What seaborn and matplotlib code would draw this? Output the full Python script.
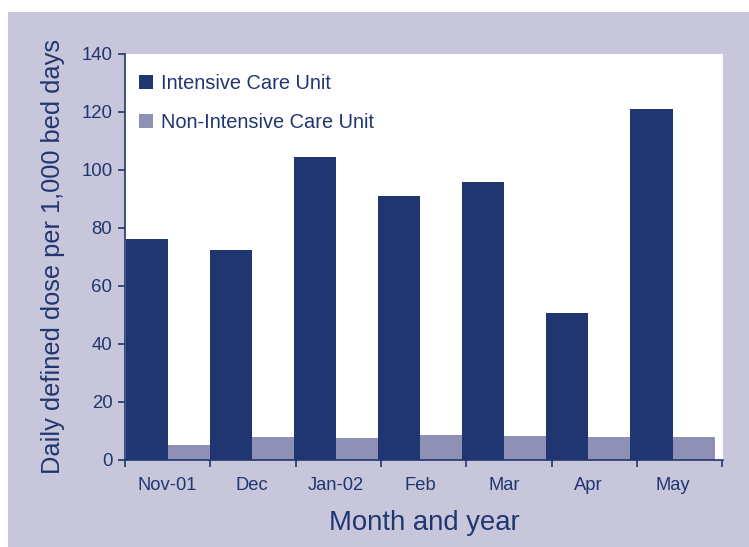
import numpy as np
import pandas as pd
import matplotlib
matplotlib.use("Agg")
import matplotlib.pyplot as plt
from matplotlib.patches import Rectangle
import seaborn as sns

months = ["Nov-01", "Dec", "Jan-02", "Feb", "Mar", "Apr", "May"]
icu = [76.2, 72.4, 104.5, 91.0, 95.9, 50.7, 121.0]
non_icu = [5.2, 7.8, 7.7, 8.7, 8.4, 8.0, 8.0]
units = ["Intensive Care Unit", "Non-Intensive Care Unit"]

navy = "#1f3670"
lilac = "#8e90b6"
bg = "#c8c6db"

df = pd.DataFrame({
    "month": months * 2,
    "unit": [units[0]] * len(months) + [units[1]] * len(months),
    "ddd": icu + non_icu,
})

sns.set_theme(style="white")
plt.rcParams["font.family"] = ["Liberation Sans", "DejaVu Sans"]

fig = plt.figure(figsize=(7.49, 5.47), dpi=100)
fig.patch.set_facecolor("white")
# lavender panel (white strip on top and left like the original)
fig.patches.append(Rectangle((8 / 749, 0), 1 - 8 / 749, 1 - 12 / 547,
                             transform=fig.transFigure, facecolor=bg,
                             edgecolor="none", zorder=-10))

ax = fig.add_axes([125 / 749, 1 - 460 / 547, (723 - 125) / 749, (460 - 54) / 547])
ax.set_facecolor("white")

sns.barplot(data=df, x="month", y="ddd", hue="unit", hue_order=units,
            palette=[navy, lilac], width=1.0, gap=0, saturation=1,
            edgecolor="none", linewidth=0, ax=ax)

ax.set_ylim(0, 140)
ax.set_yticks(np.arange(0, 141, 20))
ax.set_xlim(-0.5, 6.6)

# month labels at category centres, tick marks at category boundaries
ax.set_xticks(range(len(months)))
ax.set_xticklabels(months)
ax.set_xticks(np.arange(-0.5, 7.0, 1) * (7.1 / 7.0) + 0.0 - 0.0, minor=True)
ax.tick_params(axis="x", which="major", bottom=False, length=0, pad=12,
               labelsize=13.2, labelcolor=navy)
ax.tick_params(axis="x", which="minor", bottom=True, length=5, width=1.2,
               color=navy, direction="out")
ax.tick_params(axis="y", left=True, length=5, width=1.2, color=navy, direction="out",
               labelsize=13.4, labelcolor=navy, pad=4)

for s in ["top", "right"]:
    ax.spines[s].set_visible(False)
for s in ["left", "bottom"]:
    ax.spines[s].set_color(navy)
    ax.spines[s].set_linewidth(1.2)

ax.set_xlabel("Month and year", fontsize=19.8, color=navy, labelpad=12)
ax.set_ylabel("Daily defined dose per 1,000 bed days", fontsize=18.3, color=navy, labelpad=12)

leg = ax.legend(loc="upper left", bbox_to_anchor=(0.0, 0.985), frameon=False,
                fontsize=14.4, handlelength=0.68, handleheight=0.68,
                handletextpad=0.4, labelspacing=1.0, borderaxespad=0.3)
for t in leg.get_texts():
    t.set_color(navy)

fig.savefig("out.png", dpi=100, facecolor=fig.get_facecolor())
